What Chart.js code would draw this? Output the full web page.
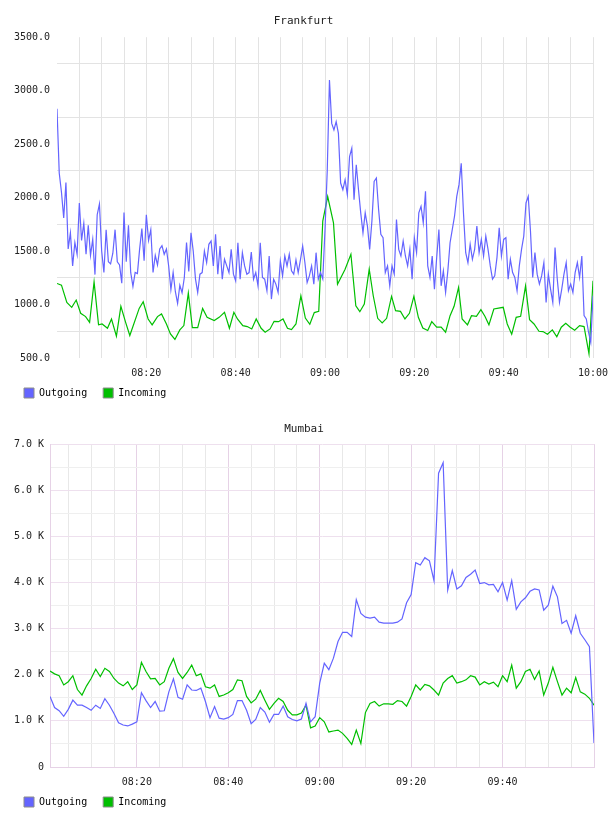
<!DOCTYPE html>
<html>
<head>
<meta charset="utf-8">
<script src="https://cdn.jsdelivr.net/npm/chart.js@4/dist/chart.umd.min.js"></script>
<style>
body { margin:0; background:#fff; width:608px; height:816px; overflow:hidden; position:relative; }
canvas { position:absolute; left:0; }
#chFra { top:0; }
#chMum { top:409px; }
</style>
</head>
<body>
<canvas id="chFra" width="608" height="408"></canvas>
<canvas id="chMum" width="608" height="408"></canvas>
<script>
/* traffic charts, Frankfurt + Mumbai, 08:00 - 10:00 */

// colors / font
var mono = 'DejaVu Sans Mono';
var blue = '#6464ff';
var green = '#00bf00';
var pink = '#e6d2e6';

// x ticks, minutes after 08:00
var xTicks = [5,10,15,20,25,30,35,40,45,50,55,60,65,70,75,80,85,90,95,100,105,110,115,120];
var fraXLabels = [20,40,60,80,100,120];
var mumXLabels = [20,40,60,80,100];

// y ticks
var fraYTicks = [500,750,1000,1250,1500,1750,2000,2250,2500,2750,3000,3250,3500];
var mumYTicks = [0,500,1000,1500,2000,2500,3000,3500,4000,4500,5000,5500,6000,6500,7000];

// Frankfurt outgoing, one value every 30 s from 08:00
var fraOut = [
  2830,2230,2050,1810,2140,1520,1670,1360,1580,1470,
  1950,1600,1760,1470,1740,1460,1610,1280,1840,1940,
  1500,1300,1700,1400,1380,1480,1700,1400,1370,1200,
  1860,1400,1740,1300,1170,1300,1290,1520,1710,1410,
  1840,1600,1700,1300,1460,1370,1520,1550,1470,1520,
  1360,1140,1300,1120,1010,1180,1110,1250,1580,1310,
  1670,1500,1240,1113,
  1284,1299,1500,1392,1563,1594,1361,1656,1284,1547,
  1237,1423,1361,1299,1516,1284,1222,1578,1237,1485,
  1361,1284,1299,1491,1237,1299,1175,1578,1253,1237,
  1129,1454,1051,1237,1191,1113,1408,1268,1454,1361,
  1470,1315,1284,1417,1299,1417,1547,1392,1206,1268,
  1361,1191,1485,1237,1300,
  1240,1700,2250,3100,
  2694,2632,2710,2601,2136,2074,2167,2028,2384,2462,
  1981,2307,2074,1857,1671,1857,1733,1516,1780,2152,
  2183,1888,1656,1625,1299,1361,1175,1361,1284,1795,
  1516,1454,1594,1454,1361,1516,1237,1625,1485,1857,
  1919,1764,2059,1361,1253,1454,1144,1438,1702,1175,
  1315,1113,1315,1578,1702,1826,2012,2121,
  2320,
  1857,1485,1392,1563,1423,1516,1733,1485,1609,1454,
  1640,1516,1361,1237,1268,1439,1718,1454,1609,1625,
  1237,1423,1299,1253,1129,1361,1516,1640,1950,2012,
  1687,1253,1485,1284,1191,1268,1392,1020,1284,1144,
  1020,1532,1237,1020,1144,1284,1392,1129,1191,1113,
  1299,1392,1253,1454,896,865,741,648,1082
];

// Frankfurt incoming, irregular samples
var fraInT = [0,1,2.2,3.3,4.3,5.3,6.4,7.3,8.3,9.3,10.1,11.3,12.2,13.3,14.3,15.4,16.3,18.4,19.3,20.4,
  21.3,22.5,23.4,24.5,25.4,26.4,27.5,28.4,29.4,30.3,31.5,32.6,33.6,35.2,36.3,37.5,38.6,39.6,40.4,41.6,
  42.6,43.6,44.6,45.7,46.6,47.7,48.6,49.6,50.6,51.6,52.5,53.5,54.6,55.6,56.6,57.6,58.6,59.5,60.6,61.9,
  62.8,64.5,65.8,66.9,67.8,68.8,69.9,70.8,71.8,72.8,73.8,74.9,75.8,76.9,77.9,78.9,79.9,80.9,81.9,83,
  83.9,85,86,87,88,88.9,89.9,90.7,91.9,92.8,93.9,94.9,95.8,96.7,97.8,99.9,100.8,101.8,102.8,103.8,
  104.9,105.8,106.8,107.9,108.8,109.8,110.9,111.9,112.9,113.9,114.9,115.9,117,118,118.5,119.1,120];
var fraIn = [1197,1181,1020,974,1042,918,887,834,1212,810,818,778,865,704,983,828,710,964,1026,865,
  810,887,912,818,725,673,763,803,1107,784,784,964,880,850,880,927,778,927,865,803,
  794,772,865,778,741,772,843,840,865,778,766,818,1082,874,815,925,936,1780,2010,1764,
  1190,1330,1470,989,933,1005,1330,1082,871,828,871,1076,943,936,865,918,1076,881,781,757,
  840,788,788,741,896,983,1160,865,810,896,890,952,890,810,958,974,818,723,880,890,
  1175,859,818,750,747,723,763,698,788,825,788,760,803,794,679,540,1222];

// Mumbai, one value per minute from 08:01
var mumOut = [
  1530,1290,1220,1100,1250,1450,1340,1340,1290,1230,
  1340,1270,1480,1340,1160,960,910,890,930,980,
  1610,1440,1290,1420,1210,1220,1630,1910,1510,1470,
  1780,1670,1660,1710,1420,1070,1310,1060,1040,1070,
  1140,1440,1440,1230,940,1030,1290,1190,970,1140,
  1140,1320,1090,1030,1000,1040,1380,980,1090,1820,
  2250,2110,2360,2720,2920,2920,2830,3630,3330,3250,
  3230,3250,3140,3120,3120,3120,3140,3210,3560,3740,
  4430,4380,4540,4470,4040,6370,6600,3840,4260,3860,
  3930,4110,4180,4270,3980,4000,3950,3960,3800,4000,
  3620,4040,3420,3580,3670,3810,3860,3840,3400,3510,
  3920,3690,3110,3180,2900,3280,2900,2760,2610,520
];
var mumIn = [
  2080,2020,1980,1780,1850,1980,1680,1560,1760,1920,
  2120,1960,2140,2070,1920,1820,1760,1850,1680,1780,
  2270,2070,1910,1920,1780,1850,2140,2350,2050,1920,
  2050,2210,1980,2020,1740,1710,1780,1530,1560,1610,
  1680,1890,1870,1530,1390,1470,1660,1450,1250,1380,
  1490,1420,1230,1130,1130,1170,1340,850,890,1070,
  980,760,780,800,730,620,490,800,510,1180,
  1380,1420,1320,1370,1370,1360,1440,1420,1320,1530,
  1780,1670,1790,1760,1670,1560,1820,1920,1980,1820,
  1850,1890,1980,1950,1780,1850,1800,1840,1740,1980,
  1850,2210,1710,1850,2070,2120,1900,2080,1560,1820,
  2160,1850,1560,1710,1610,1940,1630,1580,1490,1340
];

function hhmm(t) {
  var m = 480 + t;
  var h = Math.floor(m / 60), mm = m % 60;
  return (h < 10 ? '0' : '') + h + ':' + (mm < 10 ? '0' : '') + mm;
}

function setTicks(list) {
  return function(scale) { scale.ticks = list.map(function(v) { return {value: v}; }); };
}

// fixed axis sizes, no extra room for overhanging labels
function fixHeight(h) {
  return function(s) { s.height = h; s.paddingLeft = 0; s.paddingRight = 0; };
}
function fixWidth(w) {
  return function(s) { s.width = w; s.paddingTop = 0; s.paddingBottom = 0; };
}

function lineSet(label, color, pts) {
  return { label: label, data: pts, borderColor: color, backgroundColor: color,
           borderWidth: 1.2, pointRadius: 0, tension: 0, fill: false };
}

function baseOptions(title, padR, titlePad) {
  return {
    responsive: false,
    animation: false,
    devicePixelRatio: 1,
    layout: { padding: {left: 14, right: padR, top: 0, bottom: 0} },
    plugins: {
      title: {
        display: true, text: title, color: '#222',
        font: {family: mono, size: 11, weight: 'normal'},
        padding: titlePad
      },
      legend: {
        position: 'bottom', align: 'start',
        labels: {
          boxWidth: 10, boxHeight: 10, padding: 10, color: '#222',
          font: {family: mono, size: 10},
          generateLabels: function(chart) {
            return chart.data.datasets.map(function(ds, i) {
              return { text: ds.label + ' ', fillStyle: ds.borderColor, strokeStyle: '#8c8c8c',
                       lineWidth: 1, datasetIndex: i };
            });
          }
        }
      },
      tooltip: { enabled: false }
    }
  };
}

// Frankfurt
var fraOpts = baseOptions('Frankfurt', 15, {top: 15, bottom: 9});
fraOpts.scales = {
  x: {
    type: 'linear', min: 0, max: 120,
    afterBuildTicks: setTicks(xTicks),
    afterFit: fixHeight(20),
    border: { display: false },
    grid: { drawTicks: false, color: '#e3e3e3' },
    ticks: {
      autoSkip: false, maxRotation: 0, padding: 9, color: '#222',
      font: {family: mono, size: 10},
      callback: function(v) { return fraXLabels.indexOf(v) >= 0 ? hhmm(v) : ''; }
    }
  },
  y: {
    min: 500, max: 3500,
    afterBuildTicks: setTicks(fraYTicks),
    afterFit: fixWidth(43),
    border: { display: false },
    grid: {
      drawTicks: false,
      color: function(ctx) { return ctx.tick.value % 500 === 0 ? 'rgba(0,0,0,0)' : '#e3e3e3'; }
    },
    ticks: {
      autoSkip: false, padding: 7, color: '#222',
      font: {family: mono, size: 10},
      callback: function(v) { return v % 500 === 0 ? v.toFixed(1) : ''; }
    }
  }
};
new Chart(document.getElementById('chFra'), {
  type: 'line',
  data: {
    datasets: [
      lineSet('Outgoing', blue, fraOut.map(function(v, i) { return {x: i * 0.5, y: v}; })),
      lineSet('Incoming', green, fraIn.map(function(v, i) { return {x: fraInT[i], y: v}; }))
    ]
  },
  options: fraOpts
});

// Mumbai
var mumOpts = baseOptions('Mumbai', 14, {top: 14, bottom: 8});
mumOpts.scales = {
  x: {
    type: 'linear', min: 1, max: 120,
    afterBuildTicks: setTicks(xTicks),
    afterFit: fixHeight(20),
    border: { display: true, color: pink },
    grid: {
      drawTicks: false,
      color: function(ctx) { return ctx.tick.value % 20 === 0 ? pink : '#e8e8e8'; }
    },
    ticks: {
      autoSkip: false, maxRotation: 0, padding: 9, color: '#222',
      font: {family: mono, size: 10},
      callback: function(v) { return mumXLabels.indexOf(v) >= 0 ? hhmm(v) : ''; }
    }
  },
  y: {
    min: 0, max: 7000,
    afterBuildTicks: setTicks(mumYTicks),
    afterFit: fixWidth(36),
    border: { display: true, color: pink },
    grid: {
      drawTicks: false,
      color: function(ctx) { return ctx.tick.value % 1000 === 0 ? '#eee0ee' : '#efefef'; }
    },
    ticks: {
      autoSkip: false, padding: 6, color: '#222',
      font: {family: mono, size: 10},
      callback: function(v) {
        if (v % 1000 !== 0) return '';
        return v === 0 ? '0' : (v / 1000).toFixed(1) + ' K';
      }
    }
  }
};
new Chart(document.getElementById('chMum'), {
  type: 'line',
  data: {
    datasets: [
      lineSet('Outgoing', blue, mumOut.map(function(v, i) { return {x: i + 1, y: v}; })),
      lineSet('Incoming', green, mumIn.map(function(v, i) { return {x: i + 1, y: v}; }))
    ]
  },
  options: mumOpts
});
</script>
</body>
</html>
